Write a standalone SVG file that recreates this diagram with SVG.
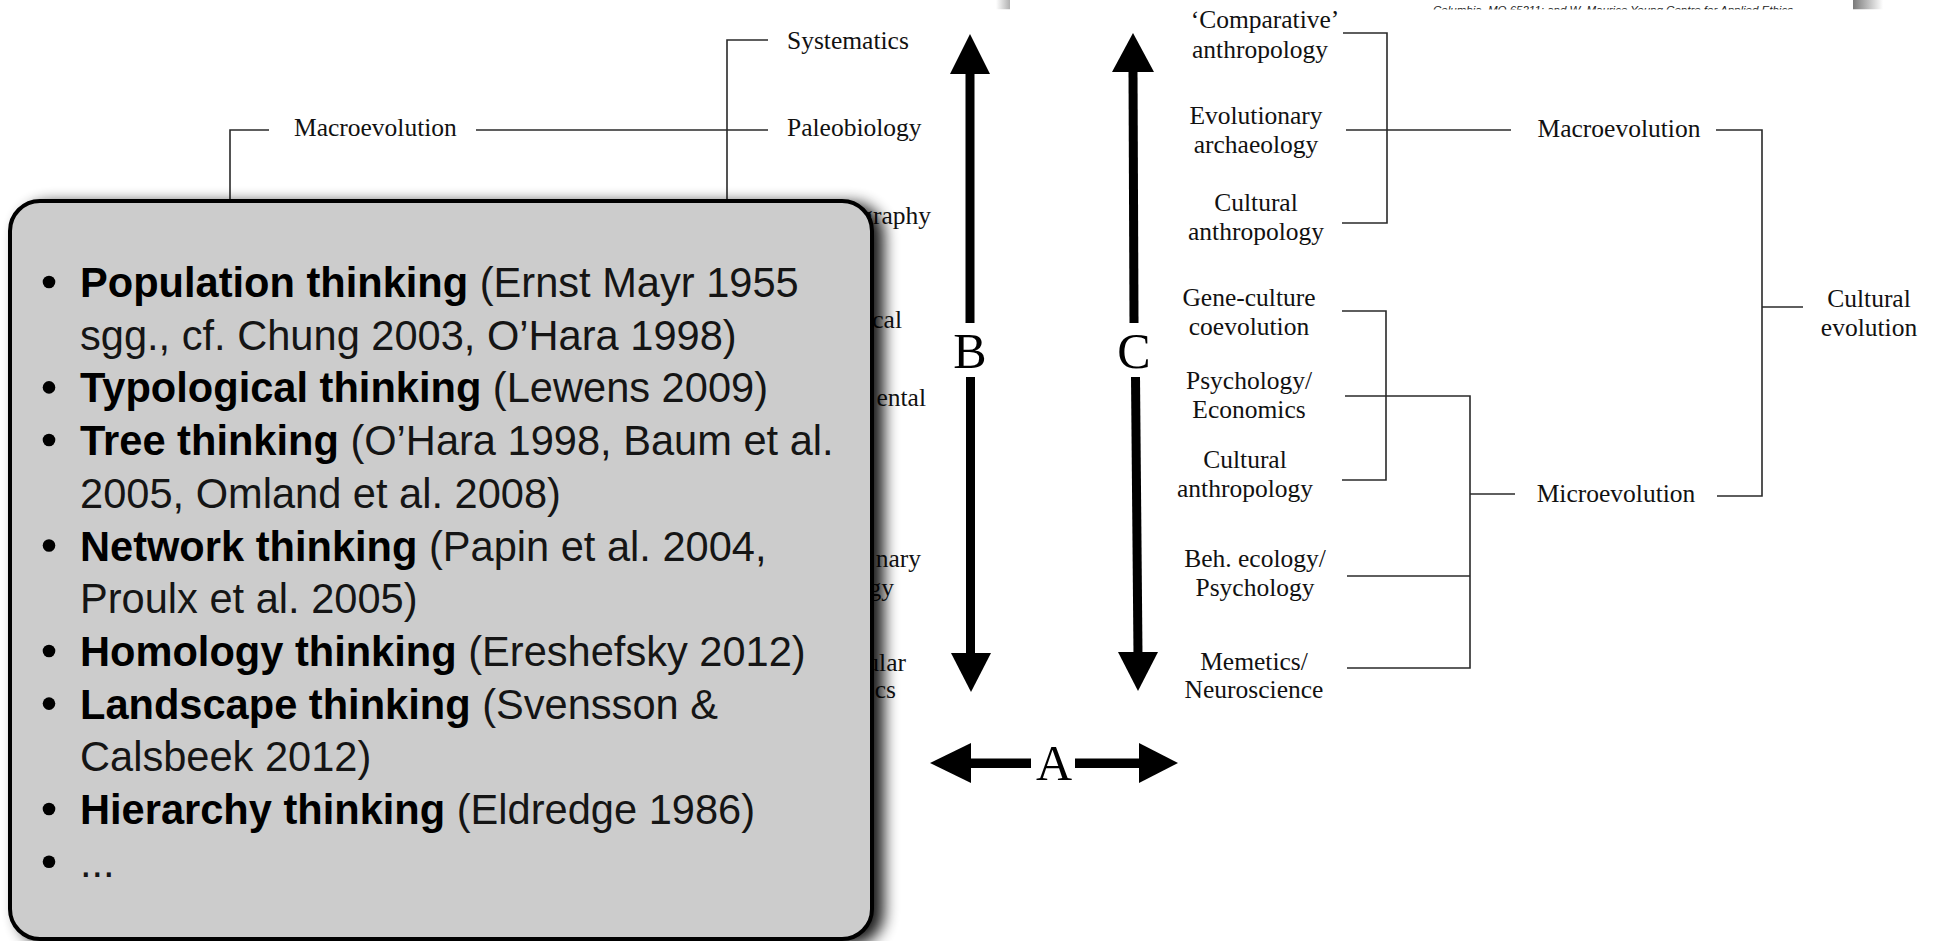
<svg xmlns="http://www.w3.org/2000/svg" width="1936" height="941" viewBox="0 0 1936 941">
<style>
.t{font-family:"Liberation Serif","Times New Roman",serif;font-size:25.5px;fill:#111}
.m{text-anchor:middle}
.e{text-anchor:end}
.big{font-family:"Liberation Serif","Times New Roman",serif;font-size:50px;fill:#000;text-anchor:middle}
.ln{fill:none;stroke:#2a2a2a;stroke-width:1.6}
.ar{fill:#000}
.bx{font-family:"Liberation Sans",Arial,sans-serif;font-size:41.6px;fill:#151515}
.bx .b{font-weight:bold;fill:#000}
.tiny{font-family:"Liberation Sans",Arial,sans-serif;font-size:11.5px;font-style:italic;fill:#222}
</style>
<defs>
<filter id="sh" x="-5%" y="-5%" width="115%" height="115%">
<feGaussianBlur in="SourceAlpha" stdDeviation="7.5"/>
<feOffset dx="10" dy="4"/>
<feComponentTransfer><feFuncA type="linear" slope="0.9"/></feComponentTransfer>
<feMerge><feMergeNode/><feMergeNode in="SourceGraphic"/></feMerge>
</filter>
<linearGradient id="gr" x1="0" x2="1" y1="0" y2="0"><stop offset="0" stop-color="#7a7a7a"/><stop offset="1" stop-color="#fff"/></linearGradient>
<linearGradient id="gl" x1="0" x2="1" y1="0" y2="0"><stop offset="0" stop-color="#fff"/><stop offset="1" stop-color="#b0b0b0"/></linearGradient>
<clipPath id="strip"><rect x="0" y="0" width="1936" height="9.5"/></clipPath>
</defs>
<rect width="1936" height="941" fill="#fff"/>

<g id="page-strip" clip-path="url(#strip)">
<rect x="996" y="0" width="14" height="9.5" fill="url(#gl)"/>
<rect x="1853" y="0" width="30" height="9.5" fill="url(#gr)"/>
<text class="tiny" x="1433" y="13.5">Columbia, MO 65211; and W. Maurice Young Centre for Applied Ethics</text>
</g>

<g id="connectors">
<path class="ln" d="M230,206 V130 H269"/>
<path class="ln" d="M476,130 H768"/>
<path class="ln" d="M727,206 V40 H768"/>
<path class="ln" d="M1343,33 H1387 V223 H1342"/>
<path class="ln" d="M1346,130 H1511"/>
<path class="ln" d="M1716,130 H1762 V496 H1717"/>
<path class="ln" d="M1762,307 H1803"/>
<path class="ln" d="M1342,311 H1386 V480 H1342"/>
<path class="ln" d="M1345,396 H1470 V668 H1347"/>
<path class="ln" d="M1470,494 H1515"/>
<path class="ln" d="M1347,576 H1470"/>
</g>

<g id="arrow-B">
<polygon class="ar" points="970,34 950,74 990,74"/>
<rect class="ar" x="965.5" y="72" width="9" height="251"/>
<rect class="ar" x="966" y="377" width="9" height="278"/>
<polygon class="ar" points="951,653 991,653 971,692"/>
<text class="big" x="970" y="368">B</text>
</g>
<g id="arrow-C">
<polygon class="ar" points="1133,33 1112,72 1154,72"/>
<polygon class="ar" points="1128.5,70 1137.5,70 1138.5,323 1129.5,323"/>
<polygon class="ar" points="1131,377 1140,377 1142.5,655 1133.5,655"/>
<polygon class="ar" points="1118,652 1158,652 1138,691"/>
<text class="big" x="1134" y="368">C</text>
</g>
<g id="arrow-A">
<polygon class="ar" points="930,763 971,743 971,783"/>
<rect class="ar" x="969" y="758.5" width="62" height="9.5"/>
<rect class="ar" x="1075" y="758.5" width="66" height="9.5"/>
<polygon class="ar" points="1139,743 1139,783 1178,763"/>
<text class="big" x="1054" y="780">A</text>
</g>

<g id="left-macroevolution"><text class="t" x="294" y="136">Macroevolution</text></g>
<g id="systematics"><text class="t" x="787" y="49">Systematics</text></g>
<g id="paleobiology"><text class="t" x="787" y="136">Paleobiology</text></g>
<g id="left-fragments">
<text class="t e" x="931" y="224">graphy</text>
<text class="t e" x="902" y="328">cal</text>
<text class="t e" x="926" y="406">ental</text>
<text class="t e" x="921" y="567">nary</text>
<text class="t e" x="894" y="596">gy</text>
<text class="t e" x="906" y="671">ular</text>
<text class="t e" x="896" y="698">cs</text>
</g>

<g id="comparative-anthropology"><text class="t m" x="1265" y="28">‘Comparative’</text><text class="t m" x="1260" y="58">anthropology</text></g>
<g id="evolutionary-archaeology"><text class="t m" x="1256" y="124">Evolutionary</text><text class="t m" x="1256" y="153">archaeology</text></g>
<g id="cultural-anthropology-1"><text class="t m" x="1256" y="211">Cultural</text><text class="t m" x="1256" y="240">anthropology</text></g>
<g id="gene-culture"><text class="t m" x="1249" y="306">Gene-culture</text><text class="t m" x="1249" y="335">coevolution</text></g>
<g id="psychology-economics"><text class="t m" x="1249" y="389">Psychology/</text><text class="t m" x="1249" y="418">Economics</text></g>
<g id="cultural-anthropology-2"><text class="t m" x="1245" y="468">Cultural</text><text class="t m" x="1245" y="497">anthropology</text></g>
<g id="beh-ecology"><text class="t m" x="1255" y="567">Beh. ecology/</text><text class="t m" x="1255" y="596">Psychology</text></g>
<g id="memetics"><text class="t m" x="1254" y="670">Memetics/</text><text class="t m" x="1254" y="698">Neuroscience</text></g>
<g id="right-macroevolution"><text class="t m" x="1619" y="137">Macroevolution</text></g>
<g id="microevolution"><text class="t m" x="1616" y="502">Microevolution</text></g>
<g id="cultural-evolution"><text class="t m" x="1869" y="307">Cultural</text><text class="t m" x="1869" y="336">evolution</text></g>

<g id="callout">
<rect x="10" y="201" width="862" height="738" rx="30" ry="30" fill="#cccccc" stroke="#000" stroke-width="4" filter="url(#sh)"/>
<g fill="#000">
<circle cx="49" cy="282" r="6.3"/>
<circle cx="49" cy="387.4" r="6.3"/>
<circle cx="49" cy="440" r="6.3"/>
<circle cx="49" cy="545.5" r="6.3"/>
<circle cx="49" cy="651" r="6.3"/>
<circle cx="49" cy="703.6" r="6.3"/>
<circle cx="49" cy="809" r="6.3"/>
<circle cx="49" cy="861.7" r="6.3"/>
</g>
<g class="bx">
<text x="80" y="297"><tspan class="b">Population thinking</tspan> (Ernst Mayr 1955</text>
<text x="80" y="349.7">sgg., cf. Chung 2003, O’Hara 1998)</text>
<text x="80" y="402.4"><tspan class="b">Typological thinking</tspan> (Lewens 2009)</text>
<text x="80" y="455"><tspan class="b">Tree thinking</tspan> (O’Hara 1998, Baum et al.</text>
<text x="80" y="507.8">2005, Omland et al. 2008)</text>
<text x="80" y="560.5"><tspan class="b">Network thinking</tspan> (Papin et al. 2004,</text>
<text x="80" y="613">Proulx et al. 2005)</text>
<text x="80" y="666"><tspan class="b">Homology thinking</tspan> (Ereshefsky 2012)</text>
<text x="80" y="718.6"><tspan class="b">Landscape thinking</tspan> (Svensson &amp;</text>
<text x="80" y="771">Calsbeek 2012)</text>
<text x="80" y="824"><tspan class="b">Hierarchy thinking</tspan> (Eldredge 1986)</text>
<text x="80" y="876.7">...</text>
</g>
</g>
</svg>
